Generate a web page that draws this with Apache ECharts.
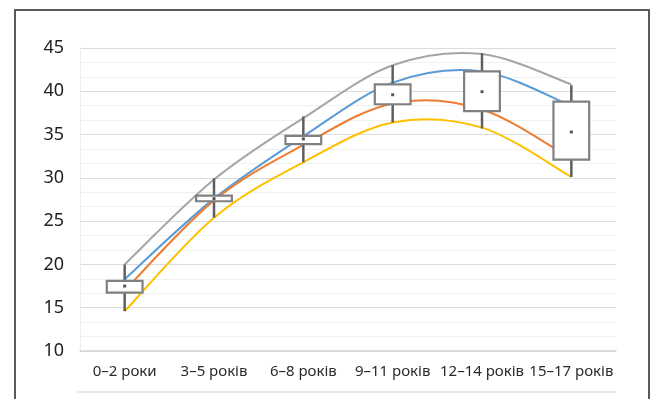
<!DOCTYPE html>
<html>
<head>
<meta charset="utf-8">
<script src="https://cdn.jsdelivr.net/npm/echarts@6/dist/echarts.min.js"></script>
<style>html,body{margin:0;padding:0;background:#fff}#c{width:652px;height:399px}</style>
</head>
<body>
<div id="c"></div>
<script>
var categories = ['0–2 роки','3–5 років','6–8 років','9–11 років','12–14 років','15–17 років'];
var yTicks = [10, 15, 20, 25, 30, 35, 40, 45];
var boxMin  = [14.6, 25.4, 31.8, 36.4, 35.7, 30.1];
var boxQ1   = [16.75, 27.3, 33.9, 38.5, 37.7, 32.1];
var boxQ3   = [18.1, 27.95, 34.85, 40.8, 42.3, 38.8];
var boxMax  = [20.0, 29.95, 37.1, 43.0, 44.4, 40.7];
var boxMean = [17.5, 27.6, 34.5, 39.6, 39.95, 35.3];
var lineGray   = [20.0, 29.8, 36.9, 43.0, 44.3, 40.8];
var lineBlue   = [18.3, 27.6, 34.8, 41.0, 42.3, 38.3];
var lineOrange = [17.0, 27.4, 33.8, 38.6, 37.9, 32.2];
var lineYellow = [14.6, 25.4, 31.8, 36.4, 35.8, 30.1];

var boxData = categories.map(function(c, i){
  return [i, boxMin[i], boxQ1[i], boxQ3[i], boxMax[i], boxMean[i]];
});

// Smooth (Catmull-Rom style) curve drawn through the axis scales
function curveSeries(values, color){
  var n = values.length;
  return {type:'custom', z:2, silent:true,
    data: values.map(function(v, i){ return [i, v]; }),
    encode:{x:0, y:1},
    renderItem:function(params, api){
      var i = params.dataIndex;
      if (i >= n - 1) return {type:'group', children:[]};
      function P(j){ j = Math.max(0, Math.min(n - 1, j)); return api.coord([j, values[j]]); }
      var p0 = P(i - 1), p1 = P(i), p2 = P(i + 1), p3 = P(i + 2);
      var k = 1 / 6;
      return {type:'bezierCurve', shape:{
          x1:p1[0], y1:p1[1], x2:p2[0], y2:p2[1],
          cpx1:p1[0] + (p2[0] - p0[0]) * k, cpy1:p1[1] + (p2[1] - p0[1]) * k,
          cpx2:p2[0] - (p3[0] - p1[0]) * k, cpy2:p2[1] - (p3[1] - p1[1]) * k},
        style:{stroke:color, lineWidth:2, fill:null}};
    }};
}

var chart = echarts.init(document.getElementById('c'));
chart.setOption({
  animation:false,
  grid:{left:80, right:36, top:48, bottom:48},
  xAxis:{type:'category', data:categories, boundaryGap:true,
    axisLine:{show:true, lineStyle:{color:'#d6d6d6', width:1.5}},
    axisTick:{show:false},
    axisLabel:{fontFamily:'Noto Sans', fontSize:15, color:'#2a2a2a', margin:13, interval:0}},
  yAxis:{type:'value', min:yTicks[0], max:yTicks[yTicks.length-1], interval:5,
    axisLine:{show:true, lineStyle:{color:'#eeeeee'}},
    axisTick:{show:false},
    axisLabel:{fontFamily:'Noto Sans', fontSize:18, color:'#222', margin:16},
    splitLine:{lineStyle:{color:'#dcdcdc', width:1.2}},
    minorTick:{show:false, splitNumber:3},
    minorSplitLine:{show:true, lineStyle:{color:'#f0f0f0', width:1}}},
  graphic:[
    {type:'rect', shape:{x:15, y:10, width:634, height:420}, style:{fill:'none', stroke:'#5a5a5a', lineWidth:2}, silent:true},
    {type:'line', shape:{x1:77, y1:392, x2:616, y2:392}, style:{stroke:'#e2e2e2', lineWidth:1.5}, silent:true}
  ],
  series:[
    curveSeries(lineGray, '#a5a5a5'),
    curveSeries(lineBlue, '#5b9bd5'),
    curveSeries(lineOrange, '#ed7d31'),
    curveSeries(lineYellow, '#ffc000'),
    {type:'custom', z:5, silent:true, data:boxData, encode:{x:0, y:[1,2,3,4,5]},
      renderItem:function(params, api){
        var x = api.value(0);
        var pMin = api.coord([x, api.value(1)]);
        var pQ1 = api.coord([x, api.value(2)]);
        var pQ3 = api.coord([x, api.value(3)]);
        var pMax = api.coord([x, api.value(4)]);
        var pMean = api.coord([x, api.value(5)]);
        var w = api.size([1, 0])[0] * 0.4;
        return {type:'group', children:[
          {type:'line', shape:{x1:pMax[0], y1:pMax[1], x2:pQ3[0], y2:pQ3[1]}, style:{stroke:'#5f5f5f', lineWidth:2.5}},
          {type:'line', shape:{x1:pMin[0], y1:pMin[1], x2:pQ1[0], y2:pQ1[1]}, style:{stroke:'#5f5f5f', lineWidth:2.5}},
          {type:'rect', shape:{x:pQ3[0]-w/2, y:pQ3[1], width:w, height:pQ1[1]-pQ3[1]}, style:{fill:'#ffffff', stroke:'#808080', lineWidth:2.2}},
          {type:'rect', shape:{x:pMean[0]-1.5, y:pMean[1]-1.5, width:3, height:3}, style:{fill:'#555'}}
        ]};
      }}
  ]
});
</script>
</body>
</html>
